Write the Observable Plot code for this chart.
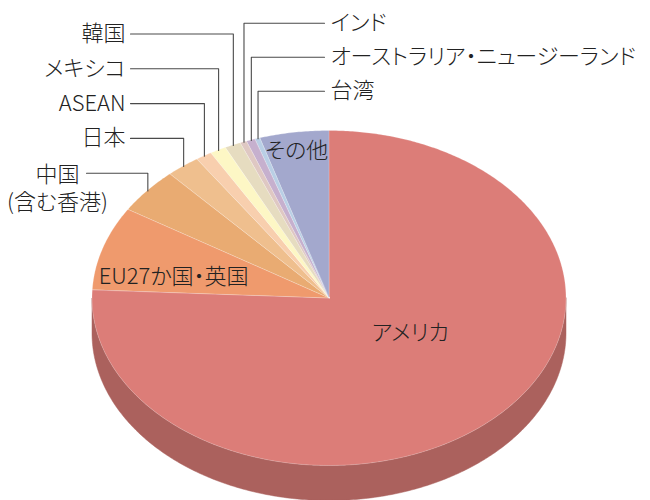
<!DOCTYPE html>
<html>
<head>
<meta charset="utf-8">
<script src="https://cdn.jsdelivr.net/npm/d3@7"></script>
<script src="https://cdn.jsdelivr.net/npm/@observablehq/plot@0.6"></script>
<style>
  html, body { margin: 0; padding: 0; background: #fff; }
  #chart svg { display: block; }
  #chart svg text { font-feature-settings: "palt" 1; font-weight: 300; }
</style>
</head>
<body>
<div id="chart"></div>
<script>
// ---------- data ----------
const categories = [
  "アメリカ", "EU27か国・英国", "中国\n(含む香港)", "日本", "ASEAN", "メキシコ",
  "韓国", "インド", "オーストラリア・ニュージーランド", "台湾", "その他"
];
const shares = [75.8, 8.1, 4.4, 2.3, 1.1, 1.1, 1.1, 0.45, 0.6, 0.35, 4.7];
const colors = [
  "#DC7D78", "#EF9A6D", "#E9AB72", "#EFBF8E", "#F8CFAE", "#FDF7C5",
  "#E6DCC0", "#DFC8C3", "#C6B0CE", "#B9CFE5", "#A3A8CD"
];

// ---------- layout ----------
const W = 650, H = 500;
const cx = 329, cy = 298, rx = 237, ry = 167.5, depth = 35;
const font = "'Noto Sans CJK JP', sans-serif";
const fs = 22;
const px2x = p => (p - cx) / rx;   // pixel -> data x
const py2y = p => (cy - p) / ry;   // pixel -> data y
const leftSide = [2, 3, 4, 5, 6];   // China .. Korea (bottom to top)
const rightSide = [9, 8, 7];        // Taiwan .. India (bottom to top)
const leftStart = 172.7, leftStep = 34.8;
const rightStart = 90.7, rightStep = 34;
const insideLabel = { 0: {r: 0.40, dAng: -15}, 1: {r: 0.67, dAng: -6.5}, 10: {r: 0.89, dAng: -0.5} };

// ---------- geometry from data ----------
const arcs = d3.pie().sort(null).value(d => d)(shares);
const toDeg = Math.PI / 180;

const topPts = [];
arcs.forEach((a, i) => {
  const n = Math.max(2, Math.ceil((a.endAngle - a.startAngle) / 0.01));
  for (let k = 0; k <= n; k++) {
    const t = a.startAngle + (a.endAngle - a.startAngle) * k / n;
    topPts.push({cat: categories[i], x: Math.sin(t), y: Math.cos(t), cx: 0, cy: 0});
  }
});

const wallMarks = [];
arcs.forEach((a, i) => {
  const lo = Math.max(a.startAngle, Math.PI / 2), hi = Math.min(a.endAngle, 3 * Math.PI / 2);
  if (lo >= hi) return;
  const pts = [];
  const n = Math.max(2, Math.ceil((hi - lo) / 0.01));
  for (let k = 0; k <= n; k++) {
    const t = lo + (hi - lo) * k / n;
    pts.push({x: Math.sin(t), y1: Math.cos(t), y2: Math.cos(t) - depth / ry});
  }
  const side = d3.color(colors[i]).darker(0.7).formatHex();
  wallMarks.push(Plot.area(pts, {
    x1: "x", y1: "y1", x2: "x", y2: "y2",
    fill: side, stroke: side, strokeWidth: 0.5
  }));
});

const mid = a => (a.startAngle + a.endAngle) / 2;

// leader lines + labels
const leaderPts = [];
const leaderLabels = [];
leftSide.forEach((i, j) => {
  const a = arcs[i], m = mid(a);
  const ly = py2y(leftStart - j * leftStep);
  const xs = i === 2 ? px2x(86) : px2x(130);
  leaderPts.push({cat: categories[i], x: xs, y: ly});
  leaderPts.push({cat: categories[i], x: Math.sin(m), y: ly});
  leaderPts.push({cat: categories[i], x: Math.sin(m), y: Math.cos(m)});
  leaderLabels.push({text: categories[i], x: i === 2 ? px2x(57) : px2x(125), y: ly,
    anchor: i === 2 ? "middle" : "end", multi: i === 2});
});
rightSide.forEach((i, j) => {
  const a = arcs[i], m = mid(a);
  const ly = py2y(rightStart - j * rightStep);
  leaderPts.push({cat: categories[i], x: Math.sin(m), y: Math.cos(m)});
  leaderPts.push({cat: categories[i], x: Math.sin(m), y: ly});
  leaderPts.push({cat: categories[i], x: px2x(324), y: ly});
  leaderLabels.push({text: categories[i], x: px2x(330), y: ly, anchor: "start", multi: false});
});

const insideData = Object.entries(insideLabel).map(([i, o]) => {
  const a = arcs[+i], t = mid(a) + o.dAng * toDeg;
  return {text: categories[+i], x: o.r * Math.sin(t), y: o.r * Math.cos(t)};
});

const chart = Plot.plot({
  width: W, height: H,
  margin: 0,
  x: {domain: [px2x(0), px2x(W)], axis: null},
  y: {domain: [py2y(H), py2y(0)], axis: null},
  color: {domain: categories, range: colors},
  style: {fontFamily: font, background: "#fff"},
  marks: [
    ...wallMarks,
    Plot.area(topPts, {x1: "x", y1: "y", x2: "cx", y2: "cy", fill: "cat", z: "cat",
      stroke: "#ffffff", strokeOpacity: 0.35, strokeWidth: 0.6}),
    Plot.line(leaderPts, {x: "x", y: "y", z: "cat", stroke: "#4a4a4a", strokeWidth: 1.1}),
    Plot.text(leaderLabels.filter(d => !d.multi && d.anchor === "end"), {x: "x", y: "y", text: "text",
      textAnchor: "end", fontSize: fs, fill: "#222"}),
    Plot.text(leaderLabels.filter(d => d.anchor === "start"), {x: "x", y: "y", text: "text",
      textAnchor: "start", fontSize: fs, fill: "#222"}),
    Plot.text(leaderLabels.filter(d => d.multi), {x: "x", y: "y", text: "text",
      textAnchor: "middle", lineAnchor: "middle", lineHeight: 1.27, dy: 14, fontSize: fs, fill: "#222"}),
    Plot.text(insideData, {x: "x", y: "y", text: "text", fontSize: fs, fill: "#222"})
  ]
});
document.getElementById("chart").appendChild(chart);
</script>
</body>
</html>
